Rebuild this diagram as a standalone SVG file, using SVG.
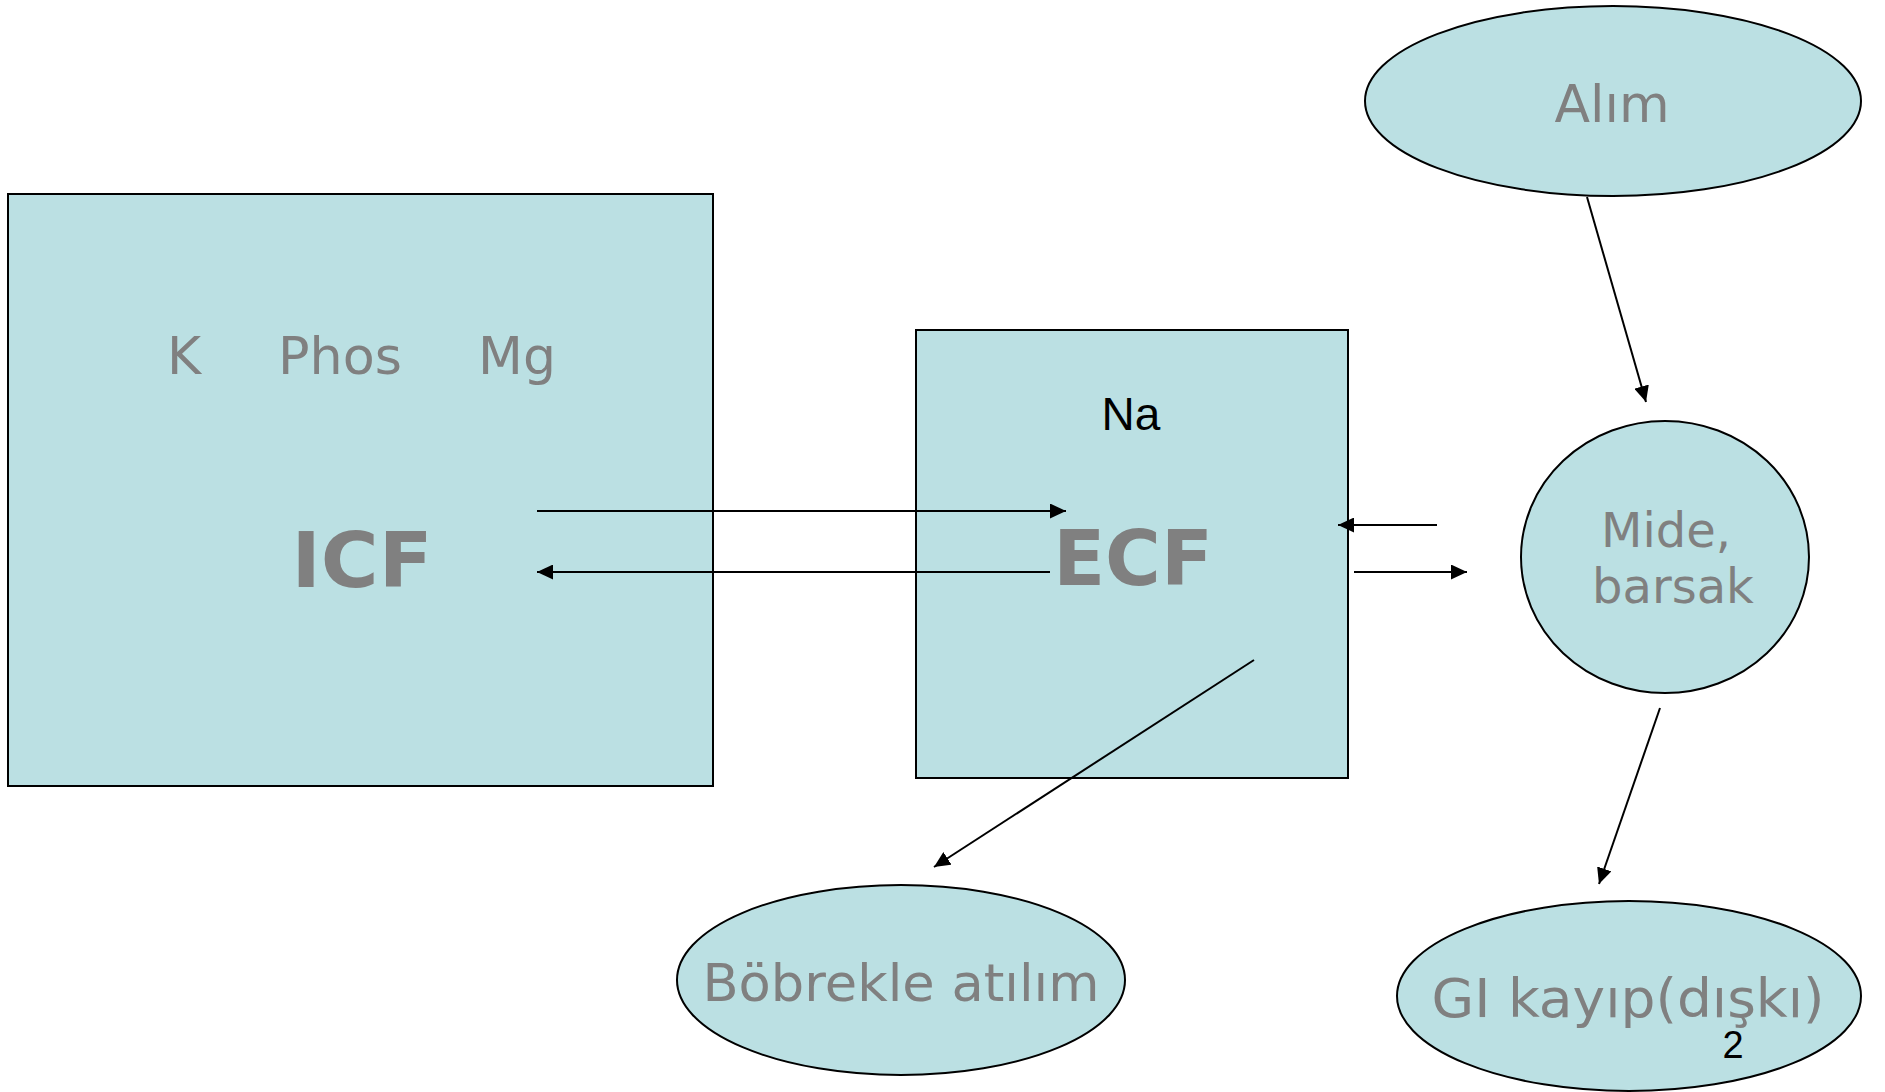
<svg xmlns="http://www.w3.org/2000/svg" width="1885" height="1092" viewBox="0 0 1885 1092">
  <style>
    .box { fill: #BBE0E3; stroke: #000; stroke-width: 2; }
    .lbl { font-family: "DejaVu Sans", Verdana, sans-serif; fill: #808080; text-anchor: middle; }
    .blk { font-family: "Liberation Sans", Arial, sans-serif; fill: #000; text-anchor: middle; }
    .link { stroke: #000; stroke-width: 2; fill: none; marker-end: url(#head); }
  </style>
  <defs>
    <marker id="head" markerUnits="userSpaceOnUse" markerWidth="16" markerHeight="15" refX="16" refY="7.5" orient="auto">
      <path d="M0,0 L16,7.5 L0,15 z" fill="#000"/>
    </marker>
  </defs>

  <rect width="1885" height="1092" fill="#fff"/>

  <g id="icf">
    <rect class="box" x="8" y="194" width="705" height="592"/>
    <text class="lbl" x="184" y="374" font-size="52">K</text>
    <text class="lbl" x="340" y="374" font-size="52" textLength="124" lengthAdjust="spacingAndGlyphs">Phos</text>
    <text class="lbl" x="517" y="374" font-size="52">Mg</text>
    <text class="lbl" x="362" y="587" font-size="76" font-weight="bold" textLength="141" lengthAdjust="spacingAndGlyphs">ICF</text>
  </g>

  <g id="ecf">
    <rect class="box" x="916" y="330" width="432" height="448"/>
    <text class="blk" x="1131" y="430" font-size="46">Na</text>
    <text class="lbl" x="1133" y="585" font-size="76" font-weight="bold">ECF</text>
  </g>

  <g id="alim">
    <ellipse class="box" cx="1613" cy="101" rx="248" ry="95"/>
    <text class="lbl" x="1612" y="122" font-size="52">Alım</text>
  </g>

  <g id="mide">
    <ellipse class="box" cx="1665" cy="557" rx="144" ry="136"/>
    <text class="lbl" x="1666" y="547" font-size="48">Mide,</text>
    <text class="lbl" x="1673" y="603" font-size="48">barsak</text>
  </g>

  <g id="bobrek">
    <ellipse class="box" cx="901" cy="980" rx="224" ry="95"/>
    <text class="lbl" x="901" y="1001" font-size="52" textLength="397" lengthAdjust="spacingAndGlyphs">Böbrekle atılım</text>
  </g>

  <g id="gi">
    <ellipse class="box" cx="1629" cy="996" rx="232" ry="95"/>
    <text class="lbl" x="1628" y="1017" font-size="53" textLength="393" lengthAdjust="spacingAndGlyphs">GI kayıp(dışkı)</text>
    <text class="blk" x="1733" y="1058" font-size="38">2</text>
  </g>

  <g id="connectors">
    <line class="link" x1="537" y1="511" x2="1066" y2="511"/>
    <line class="link" x1="1050" y1="572" x2="537" y2="572"/>
    <line class="link" x1="1437" y1="525" x2="1338" y2="525"/>
    <line class="link" x1="1354" y1="572" x2="1467" y2="572"/>
    <line class="link" x1="1587" y1="197" x2="1646" y2="402"/>
    <line class="link" x1="1660" y1="708" x2="1599" y2="884"/>
    <line class="link" x1="1254" y1="660" x2="934" y2="867"/>
  </g>
</svg>
